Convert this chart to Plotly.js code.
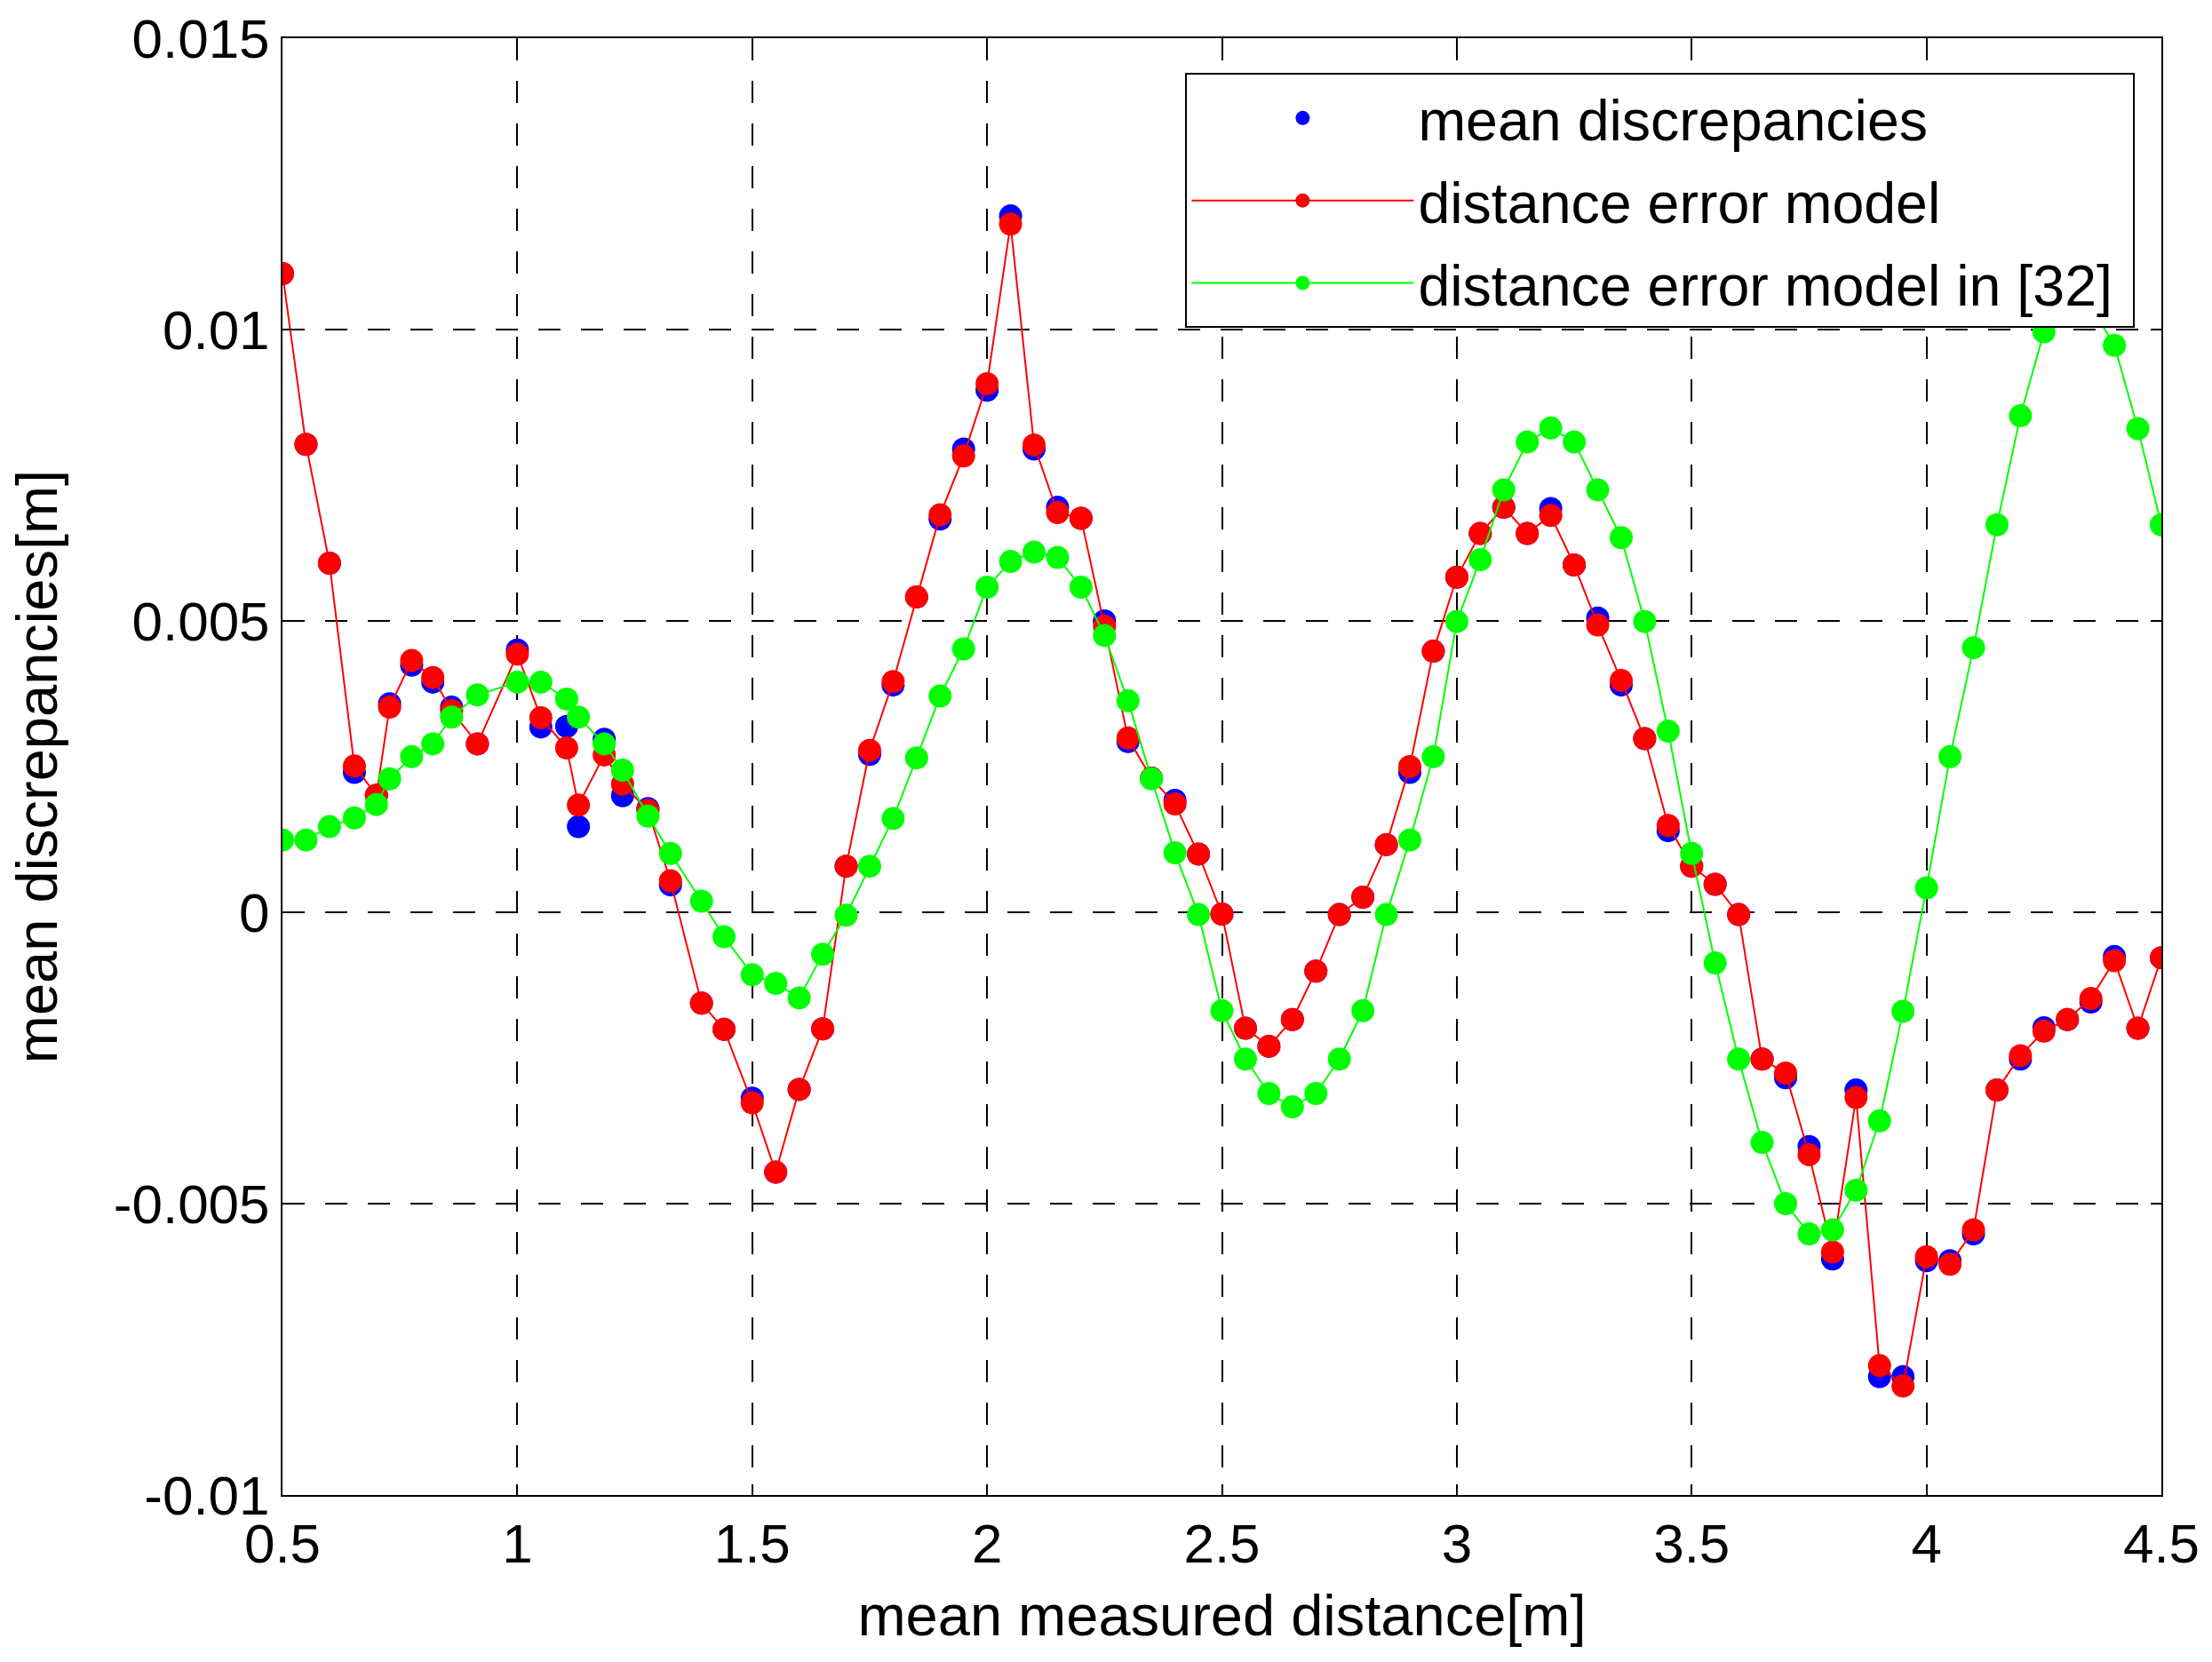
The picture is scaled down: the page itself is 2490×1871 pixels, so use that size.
<!DOCTYPE html>
<html>
<head>
<meta charset="utf-8">
<script src="https://cdn.plot.ly/plotly-3.0.1.min.js"></script>
<style>
  body { margin: 0; background: #fff; }
  #myDiv { width: 2490px; height: 1871px; }
</style>
</head>
<body>
<div id="myDiv"></div>
<script>
// mean measured distance [m]
var distance = [
  0.5, 0.55, 0.6, 0.653, 0.7, 0.728, 0.775, 0.82, 0.86, 0.915,
  1.0, 1.05, 1.105, 1.13, 1.185, 1.224, 1.278, 1.326, 1.392, 1.44,
  1.5, 1.55, 1.6, 1.65, 1.7, 1.75, 1.8, 1.85, 1.9, 1.95,
  2.0, 2.05, 2.1, 2.15, 2.2, 2.25, 2.3, 2.35, 2.4, 2.45,
  2.5, 2.55, 2.6, 2.65, 2.7, 2.75, 2.8, 2.85, 2.9, 2.95,
  3.0, 3.05, 3.1, 3.15, 3.2, 3.25, 3.3, 3.35, 3.4, 3.45,
  3.5, 3.55, 3.6, 3.65, 3.7, 3.75, 3.8, 3.85, 3.9, 3.95,
  4.0, 4.05, 4.1, 4.15, 4.2, 4.25, 4.3, 4.35, 4.4, 4.45, 4.5
];

var meanDiscrepancies = [
  0.01096, 0.00803, 0.00599, 0.0024, 0.00201, 0.00358, 0.00424, 0.00395, 0.00352, 0.00289,
  0.0045, 0.00318, 0.00319, 0.00147, 0.00297, 0.002, 0.00178, 0.00047, -0.00156, -0.00201,
  -0.00319, -0.00446, -0.00304, -0.002, 0.00079, 0.00271, 0.0039, 0.00541, 0.00675, 0.00795,
  0.00896, 0.01195, 0.00795, 0.00695, 0.00676, 0.005, 0.00293, 0.0023, 0.00192, 0.001,
  -0.00003, -0.00199, -0.0023, -0.00184, -0.00101, -0.00004, 0.00026, 0.00116, 0.0024, 0.00448,
  0.00575, 0.0065, 0.00695, 0.0065, 0.00693, 0.00596, 0.00505, 0.0039, 0.00298, 0.0014,
  0.00079, 0.00048, -0.00004, -0.00252, -0.00284, -0.00402, -0.00595, -0.00305, -0.00797, -0.00797,
  -0.00598, -0.00598, -0.00552, -0.00305, -0.00252, -0.00198, -0.00184, -0.00154, -0.00076, -0.00199, -0.00078
];

var errorModel = [
  0.01096, 0.00803, 0.00599, 0.00251, 0.00201, 0.00352, 0.00432, 0.00403, 0.00346, 0.00289,
  0.00443, 0.00334, 0.00282, 0.00184, 0.0027, 0.0022, 0.00175, 0.00054, -0.00156, -0.00201,
  -0.00327, -0.00446, -0.00304, -0.002, 0.00079, 0.00278, 0.00396, 0.00541, 0.00682, 0.00783,
  0.00907, 0.01181, 0.00802, 0.00686, 0.00676, 0.00491, 0.00299, 0.0023, 0.00186, 0.001,
  -0.00003, -0.00199, -0.0023, -0.00184, -0.00101, -0.00004, 0.00026, 0.00116, 0.0025, 0.00448,
  0.00575, 0.0065, 0.00695, 0.0065, 0.00681, 0.00596, 0.00493, 0.00398, 0.00298, 0.00149,
  0.00079, 0.00048, -0.00004, -0.00252, -0.00276, -0.00416, -0.00583, -0.00318, -0.00778, -0.00813,
  -0.00591, -0.00604, -0.00545, -0.00305, -0.00246, -0.00204, -0.00184, -0.00148, -0.00083, -0.00199, -0.00078
];

var errorModel32 = [
  0.00124, 0.00124, 0.00147, 0.00162, 0.00185, 0.00229, 0.00267, 0.00289, 0.00335, 0.00373,
  0.00395, 0.00395, 0.00366, 0.00335, 0.00289, 0.00244, 0.00165, 0.00101, 0.00019, -0.00042,
  -0.00107, -0.00122, -0.00147, -0.00072, -0.00005, 0.00079, 0.00161, 0.00265, 0.00371, 0.00452,
  0.00558, 0.00602, 0.00618, 0.00609, 0.00558, 0.00475, 0.00363, 0.00229, 0.00102, -0.00004,
  -0.00169, -0.00252, -0.00311, -0.00334, -0.00311, -0.00252, -0.00169, -0.00004, 0.00124, 0.00267,
  0.00499, 0.00605, 0.00725, 0.00807, 0.00831, 0.00807, 0.00725, 0.00643, 0.00499, 0.00311,
  0.00101, -0.00087, -0.00252, -0.00395, -0.005, -0.00552, -0.00545, -0.00477, -0.00358, -0.0017,
  0.00042, 0.00267, 0.00454, 0.00665, 0.00852, 0.00996, 0.0105, 0.0104, 0.00973, 0.0083, 0.00665
];

var xTicks = [0.5, 1, 1.5, 2, 2.5, 3, 3.5, 4, 4.5];
var xTickText = ["0.5", "1", "1.5", "2", "2.5", "3", "3.5", "4", "4.5"];
var yTicks = [-0.01, -0.005, 0, 0.005, 0.01, 0.015];
var yTickText = ["-0.01", "-0.005", "0", "0.005", "0.01", "0.015"];

var font = "Arial, 'Liberation Sans', sans-serif";

var data = [
  {
    type: "scatter",
    mode: "markers",
    name: "mean discrepancies",
    legendgroup: "g1",
    x: distance,
    y: meanDiscrepancies,
    marker: { color: "#0000ff", size: 26 }
  },
  {
    type: "scatter",
    mode: "lines+markers",
    name: "distance error model",
    legendgroup: "g2",
    x: distance,
    y: errorModel,
    line: { color: "#ff0000", width: 2 },
    marker: { color: "#ff0000", size: 26 }
  },
  {
    type: "scatter",
    mode: "lines+markers",
    name: "distance error model in [32]\u00a0",
    legendgroup: "g3",
    x: distance,
    y: errorModel32,
    line: { color: "#00ff00", width: 2 },
    marker: { color: "#00ff00", size: 26 }
  }
];

var axisCommon = {
  showline: true,
  mirror: "ticks",
  linecolor: "black",
  linewidth: 2,
  ticks: "inside",
  ticklen: 12,
  tickwidth: 1.5,
  tickcolor: "black",
  showgrid: true,
  gridcolor: "black",
  gridwidth: 1.5,
  griddash: "25px,23px",
  zeroline: false,
  tickfont: { family: font, size: 62, color: "black" }
};

var layout = {
  width: 2490, height: 1871,
  margin: { t: 43, r: 57, l: 318, b: 188 },
  paper_bgcolor: "white",
  plot_bgcolor: "white",
  font: { family: font, color: "black" },
  showlegend: true,
  legend: {
    x: 0.986, xanchor: "right",
    y: 0.976, yanchor: "top",
    bgcolor: "white",
    bordercolor: "black",
    borderwidth: 2,
    itemwidth: 250,
    tracegroupgap: 6,
    traceorder: "grouped",
    font: { family: font, size: 64.5, color: "black" }
  },
  xaxis: Object.assign({}, axisCommon, {
    range: [0.5, 4.5],
    tickvals: xTicks,
    ticktext: xTickText,
    title: { text: "mean measured distance[m]", font: { family: font, size: 65, color: "black" }, standoff: 24 }
  }),
  yaxis: Object.assign({}, axisCommon, {
    range: [-0.01, 0.015],
    tickvals: yTicks,
    ticktext: yTickText,
    title: { text: "mean discrepancies[m]", font: { family: font, size: 65, color: "black" }, standoff: 42 }
  })
};

Plotly.newPlot("myDiv", data, layout, { displayModeBar: false });
</script>
</body>
</html>
